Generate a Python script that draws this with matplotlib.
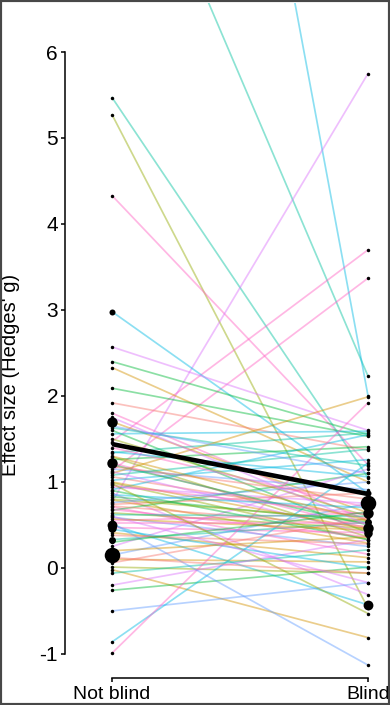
import numpy as np
import matplotlib.pyplot as plt
from matplotlib.patches import Rectangle

plt.rcParams['font.family'] = ['Liberation Sans', 'DejaVu Sans']

# effect sizes per study (Not blind, Blind)
not_blind = [5.47, 5.27, 4.33, 9.2, 18.0, 0.77, 1.47, 1.13, 2.98, 2.57,
             2.40, 2.33, 2.09, 1.92, 1.80, 1.70, 1.63, 1.60, 1.56, 1.34,
             1.29, 1.26, 1.22, 1.15, 1.10, 1.06, 1.02, 0.99, 0.94, 0.91,
             0.87, 0.83, 0.79, 0.74, 0.71, 0.67, 0.64, 0.59, 0.55, 0.50,
             0.47, 0.41, 0.33, 0.25, 0.15, 0.10, 0.06, 0.01, -0.02, -0.06,
             -0.20, -0.26, -0.50, -0.86, -0.99, 0.52, 1.50, 1.40, 1.35, 1.20,
             1.18, 1.12, 1.08, 1.00, 0.96, 0.90, 0.85, 0.80, 0.76, 0.72,
             0.68, 0.62, 0.57, 0.52, 0.45, 0.38, 0.30, 0.20, 1.65, 1.75,
             1.45, 1.30, 0.98, 0.12, 0.60]
blind = [1.05, -0.47, 1.20, 2.23, 2.00, 5.75, 3.70, 3.37, 0.87, 1.60,
         1.55, 1.00, 1.53, 1.37, 0.55, 0.64, 1.19, 0.41, 1.59, 1.57,
         0.36, 1.41, 0.46, 0.91, 1.99, 0.58, 1.26, 0.33, 0.75, 1.55,
         -0.31, 0.53, 0.29, 0.87, 0.16, 1.10, 0.46, 0.25, 0.64, -0.43,
         0.41, 0.12, 0.53, 1.15, 0.75, 0.07, 0.58, -0.06, -0.81, 0.21,
         0.33, 0.01, -0.17, 1.22, 1.92, -1.13, 0.60, 0.70, 1.06, 0.50,
         0.80, 0.40, 1.38, 0.45, 0.62, 0.33, 0.70, 0.55, 1.00, 0.48,
         0.36, 0.60, 0.44, 0.52, 0.00, 0.28, 0.65, 0.36, 1.10, 0.50,
         0.85, 0.55, -0.53, -0.06, -0.17]
colour_idx = [4, 2, 8, 4, 5, 7, 8, 8, 5, 7,
              3, 1, 3, 0, 8, 1, 4, 3, 5, 4,
              2, 3, 8, 6, 1, 0, 5, 2, 7, 5,
              7, 3, 1, 0, 8, 3, 2, 6, 8, 5,
              8, 1, 4, 7, 6, 1, 0, 2, 1, 4,
              7, 3, 6, 5, 8, 6, 2, 8, 5, 3,
              0, 7, 4, 1, 8, 3, 5, 2, 6, 0,
              8, 4, 1, 8, 5, 0, 3, 1, 6, 7,
              3, 1, 2, 0, 7]
weight = [1] * len(not_blind)
weight[8] = 3
weight[15] = 9
weight[22] = 9
weight[39] = 8
weight[40] = 6
weight[42] = 4
weight[44] = 20

mean_effect = [1.44, 0.86]
groups = ['Not blind', 'Blind']

palette = ['#F8766D', '#D39200', '#93AA00', '#00BA38', '#00C19F',
           '#00B9E3', '#619CFF', '#DB72FB', '#FF61C3']

fig = plt.figure(figsize=(3.9, 7.05), dpi=100)
ax = fig.add_axes([65 / 390, 27 / 705, 323 / 390, 675 / 705])

for nb, bl, ci in zip(not_blind, blind, colour_idx):
    ax.plot([0, 1], [nb, bl], color=palette[ci], alpha=0.45, lw=1.25, zorder=2)

ax.plot([0, 1], mean_effect, color='black', lw=3.3, zorder=3,
        solid_capstyle='butt')

for nb, bl, w in zip(not_blind, blind, weight):
    ms = 2.5 * np.sqrt(w)
    ax.plot([0, 1], [nb, bl], ls='none', marker='o', ms=ms, color='black',
            mec='none', zorder=4)

ax.set_xlim(-0.184, 1.078)
ax.set_ylim(-1.28, 6.57)
ax.set_yticks(range(-1, 7))
ax.set_yticklabels([str(v) for v in range(-1, 7)])
ax.set_xticks([0, 1])
ax.set_xticklabels(groups)

for s in ['top', 'right']:
    ax.spines[s].set_visible(False)
ax.spines['left'].set_bounds(-1, 6)
ax.spines['bottom'].set_bounds(0, 1)
ax.spines['left'].set_linewidth(1.1)
ax.spines['bottom'].set_linewidth(1.1)
ax.tick_params(axis='y', length=3, width=1.1, labelsize=15, pad=2)
ax.tick_params(axis='x', length=3, width=1.1, labelsize=14, pad=3)

ax.set_ylabel("Effect size (Hedges' g)", fontsize=14.5)
ax.yaxis.set_label_coords(-0.14, 0.449)

fig.patches.append(Rectangle((0, 0), 1, 1, transform=fig.transFigure,
                             fill=False, edgecolor='#484848', lw=3,
                             zorder=10))

fig.savefig('out.png', dpi=100)
